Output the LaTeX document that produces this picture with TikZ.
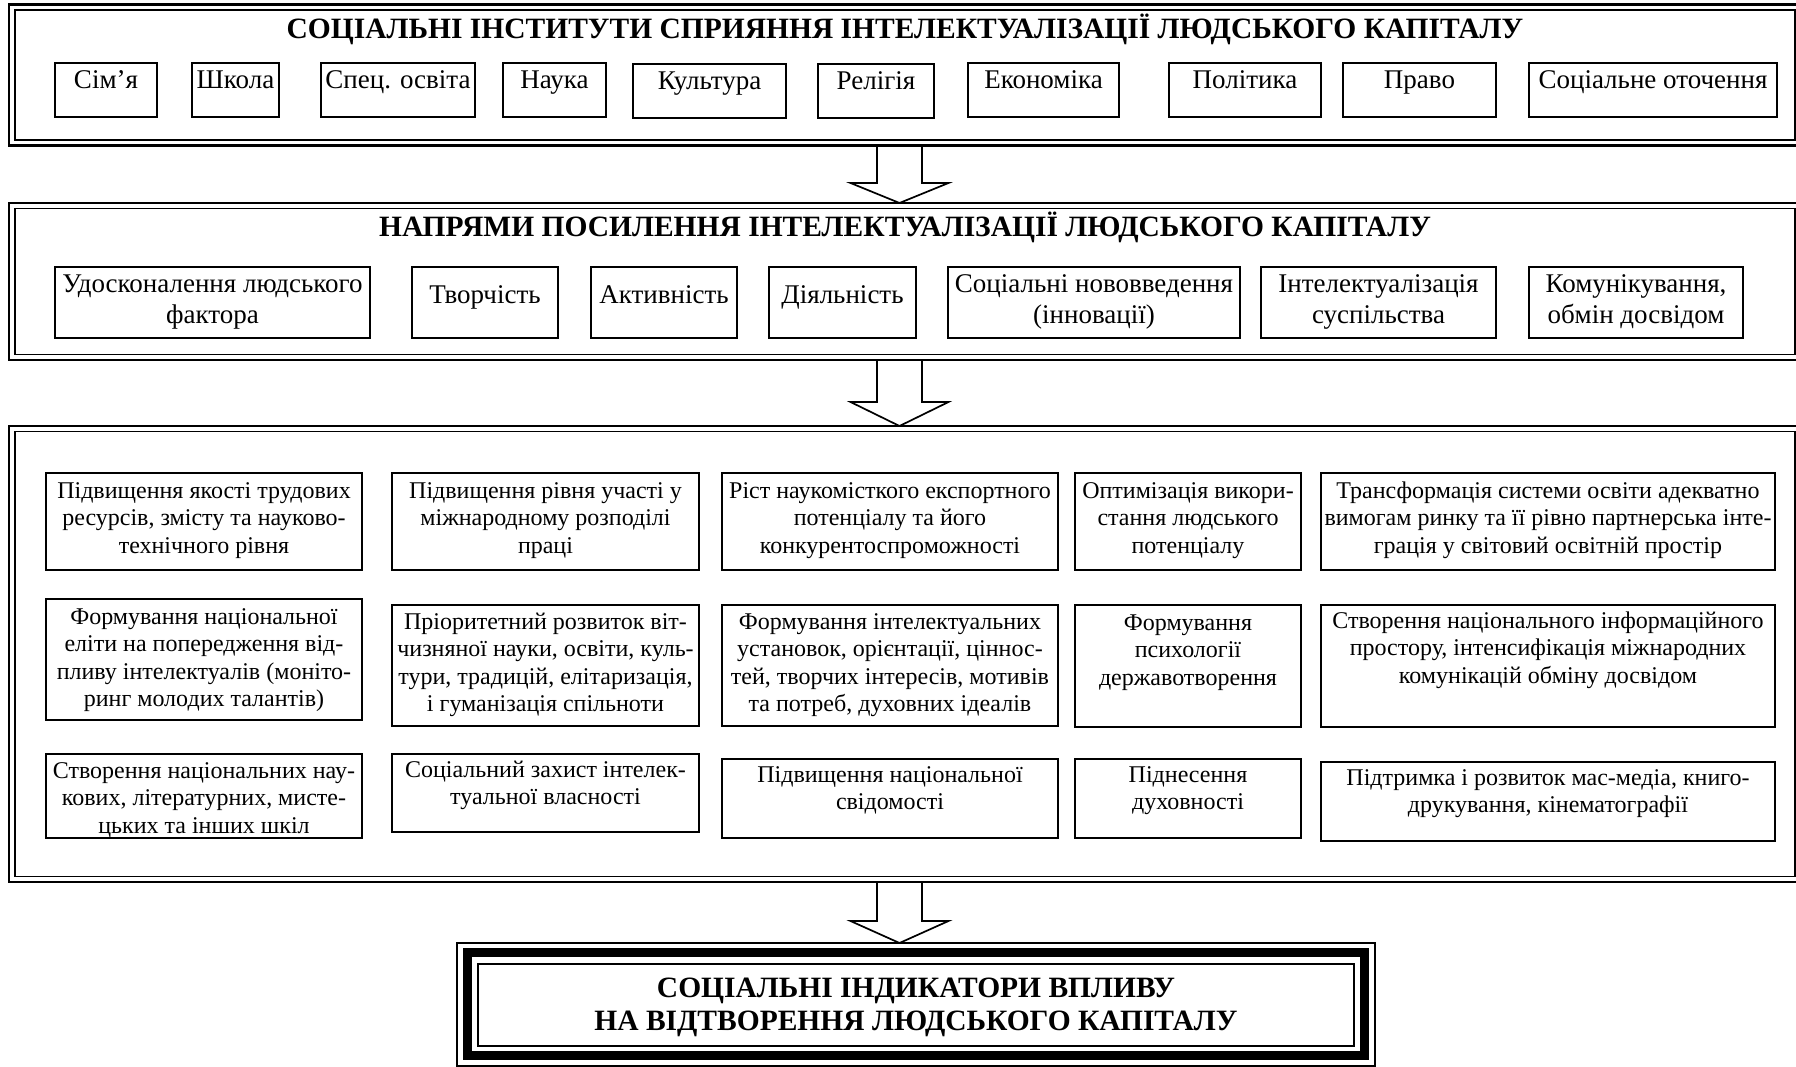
\documentclass[tikz,border=0pt]{standalone}
\usepackage{fontspec}
\setmainfont{Liberation Serif}
\usetikzlibrary{fit,calc}
\newcommand\mltext[1]{{\setlength\tabcolsep{0pt}\begin{tabular}[t]{c}#1\end{tabular}}}
\newcommand\cell[8]{%
  \node[ibox, fit={(#2,#3)(#4,#5)}] (#1) {};
  \node[#6] (#1t) at ({(#2+#4)/2},#7) {\mltext{#8}};}
\newcommand\barr[3]{%
  \draw[barrow] let \p1=(#1), \p2=(#2) in
   (\x1-22.5pt,\y1) -- (\x1-22.5pt,\y2+#3pt) -- (\x1-49pt,\y2+#3pt) -- (\x2,\y2)
   -- (\x1+49pt,\y2+#3pt) -- (\x1+22.5pt,\y2+#3pt) -- (\x1+22.5pt,\y1);}
\begin{document}
\begin{tikzpicture}[x=1pt,y=-1pt,
  frameout/.style={draw, line width=2.8pt, inner sep=0pt},
  framein/.style={draw, line width=1.8pt, inner sep=0pt},
  ibox/.style={draw, line width=1.7pt, inner sep=0pt},
  tA/.style={font=\fontsize{27}{31}\selectfont, inner sep=0pt, anchor=base},
  tB/.style={font=\fontsize{24}{27.5}\selectfont, inner sep=0pt, anchor=base},
  ttl/.style={font=\fontsize{29.5}{33}\selectfont\bfseries, inner sep=0pt, anchor=base},
  barrow/.style={draw, line width=1.7pt, fill=white, line join=miter},
]
\useasboundingbox (0,0) rectangle (1796,1067);
\clip (0,0) rectangle (1796,1067);
% arrows (drawn first, frames on top)
\coordinate (a1top) at (899.5,145.5); \coordinate (a1tip) at (899.5,203);
\coordinate (a2top) at (899.5,360);   \coordinate (a2tip) at (899.5,426);
\coordinate (a3top) at (899.5,882);   \coordinate (a3tip) at (899.5,943);
\barr{a1top}{a1tip}{20}
\barr{a2top}{a2tip}{24}
\barr{a3top}{a3tip}{22}
% frame 1
\node[frameout, fit={(9,4.5)(1801,145.5)}] (f1o) {};
\node[framein, fit={(15,10)(1795,140)}] (f1i) {};
\node[ttl] (t1) at (905,39) {СОЦІАЛЬНІ ІНСТИТУТИ СПРИЯННЯ ІНТЕЛЕКТУАЛІЗАЦІЇ ЛЮДСЬКОГО КАПІТАЛУ};
\cell{s1}{55}{63}{157}{117}{tA}{89}{Сім’я}
\cell{s2}{192}{63}{279}{117}{tA}{89}{Школа}
\cell{s3}{321}{63}{475}{117}{tA}{89}{Спец. освіта}
\cell{s4}{503}{63}{606}{117}{tA}{89}{Наука}
\cell{s5}{633}{64}{786}{118}{tA}{90}{Культура}
\cell{s6}{818}{64}{934}{118}{tA}{90}{Релігія}
\cell{s7}{968}{63}{1119}{117}{tA}{89}{Економіка}
\cell{s8}{1169}{63}{1321}{117}{tA}{89}{Політика}
\cell{s9}{1343}{63}{1496}{117}{tA}{89}{Право}
\cell{s10}{1529}{63}{1777}{117}{tA}{89}{Соціальне оточення}
% frame 2
\node[frameout, fit={(9,203)(1801,360)}] (f2o) {};
\node[framein, fit={(15,208.5)(1795,354.5)}] (f2i) {};
\node[ttl] (t2) at (905,237) {НАПРЯМИ ПОСИЛЕННЯ ІНТЕЛЕКТУАЛІЗАЦІЇ ЛЮДСЬКОГО КАПІТАЛУ};
\cell{n1}{55}{267}{370}{338}{tA}{293}{Удосконалення людського\\фактора}
\cell{n2}{412}{267}{558}{338}{tA}{303}{Творчість}
\cell{n3}{591}{267}{737}{338}{tA}{303}{Активність}
\cell{n4}{769}{267}{916}{338}{tA}{303}{Діяльність}
\cell{n5}{948}{267}{1240}{338}{tA}{293}{Соціальні нововведення\\(інновації)}
\cell{n6}{1261}{267}{1496}{338}{tA}{293}{Інтелектуалізація\\суспільства}
\cell{n7}{1529}{267}{1743}{338}{tA}{293}{Комунікування,\\обмін досвідом}
% frame 3
\node[frameout, fit={(9,426)(1801,882)}] (f3o) {};
\node[framein, fit={(15,431.5)(1795,876.5)}] (f3i) {};
\cell{c11}{46}{473}{362}{570}{tB}{498}{Підвищення якості трудових\\ресурсів, змісту та науково-\\технічного рівня}
\cell{c12}{392}{473}{699}{570}{tB}{498}{Підвищення рівня участі у\\міжнародному розподілі\\праці}
\cell{c13}{722}{473}{1058}{570}{tB}{498}{Ріст наукомісткого експортного\\потенціалу та його\\конкурентоспроможності}
\cell{c14}{1075}{473}{1301}{570}{tB}{498}{Оптимізація викори-\\стання людського\\потенціалу}
\cell{c15}{1321}{473}{1775}{570}{tB}{498}{Трансформація системи освіти адекватно\\вимогам ринку та її рівно партнерська інте-\\грація у світовий освітній простір}
\cell{c21}{46}{599}{362}{720}{tB}{624}{Формування національної\\еліти на попередження від-\\пливу інтелектуалів (моніто-\\ринг молодих талантів)}
\cell{c22}{392}{605}{699}{726}{tB}{629}{Пріоритетний розвиток віт-\\чизняної науки, освіти, куль-\\тури, традицій, елітаризація,\\і гуманізація спільноти}
\cell{c23}{722}{605}{1058}{726}{tB}{629}{Формування інтелектуальних\\установок, орієнтації, ціннос-\\тей, творчих інтересів, мотивів\\та потреб, духовних ідеалів}
\cell{c24}{1075}{605}{1301}{727}{tB}{630}{Формування\\психології\\державотворення}
\cell{c25}{1321}{605}{1775}{727}{tB}{628}{Створення національного інформаційного\\простору, інтенсифікація міжнародних\\комунікацій обміну досвідом}
\cell{c31}{46}{754}{362}{838}{tB}{778}{Створення національних нау-\\кових, літературних, мисте-\\цьких та інших шкіл}
\cell{c32}{392}{754}{699}{832}{tB}{777}{Соціальний захист інтелек-\\туальної власності}
\cell{c33}{722}{759}{1058}{838}{tB}{782}{Підвищення національної\\свідомості}
\cell{c34}{1075}{759}{1301}{838}{tB}{782}{Піднесення\\духовності}
\cell{c35}{1321}{762}{1775}{841}{tB}{785}{Підтримка і розвиток мас-медіа, книго-\\друкування, кінематографії}
% frame 4
\node[draw, line width=2pt, inner sep=0pt, fit={(457,943)(1375,1066)}] (f4o) {};
\node[draw, line width=9pt, inner sep=0pt, fit={(467.5,952.5)(1364.5,1055)}] (f4m) {};
\node[draw, line width=2pt, inner sep=0pt, fit={(478,964)(1354,1046)}] (f4i) {};
\node[ttl] (t4) at (916,997) {\mltext{СОЦІАЛЬНІ ІНДИКАТОРИ ВПЛИВУ\\НА ВІДТВОРЕННЯ ЛЮДСЬКОГО КАПІТАЛУ}};
\end{tikzpicture}
\end{document}
